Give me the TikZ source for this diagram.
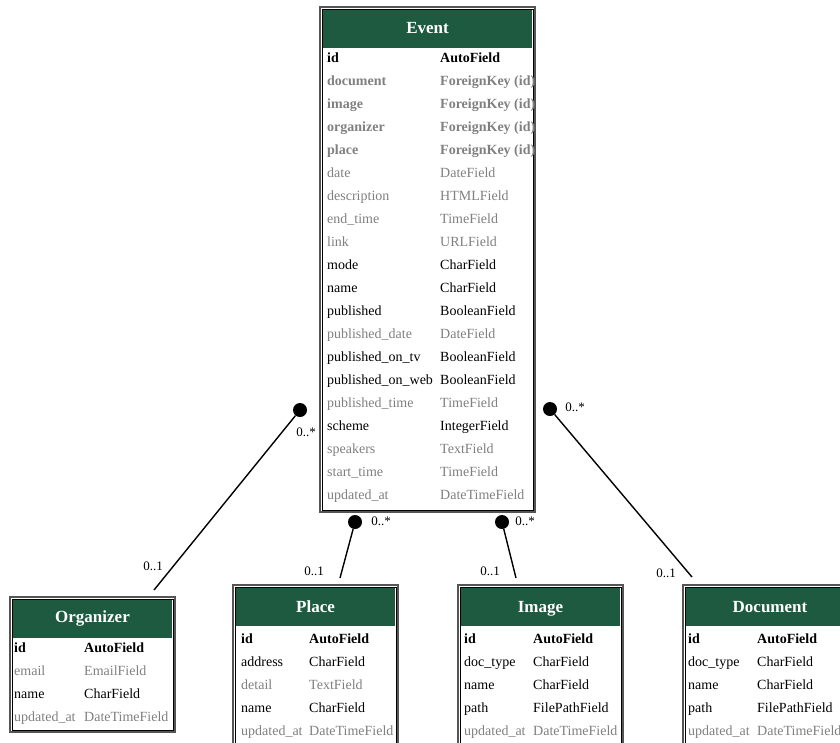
\documentclass[tikz,border=0pt]{standalone}
\usepackage{fontspec}
\setmainfont{Liberation Serif}
\usetikzlibrary{fit}

\definecolor{hdrgreen}{HTML}{1D5A40}
\definecolor{nullgray}{HTML}{808080}
\definecolor{framegray}{HTML}{555555}

\tikzset{
  modelframe/.style={draw=framegray, line width=1.3pt, fill=white, inner sep=0pt},
  innerframe/.style={draw=black, line width=0.8pt},
  hdrfill/.style={fill=hdrgreen, draw=none, inner sep=0pt},
  title/.style={anchor=base, inner sep=0pt, text=white,
    font=\fontsize{17}{20}\selectfont\bfseries},
  fld/.style={anchor=base west, inner sep=0pt, font=\fontsize{14}{16}\selectfont},
  nn/.style={fld, text=black},
  nl/.style={fld, text=nullgray},
  pk/.style={fld, text=black, font=\fontsize{14}{16}\selectfont\bfseries},
  fk/.style={fld, text=nullgray, font=\fontsize{14}{16}\selectfont\bfseries},
  enddot/.style={circle, fill=black, minimum size=14pt, inner sep=0pt},
  link/.style={line width=1.4pt, draw=black},
  card/.style={inner sep=0pt, font=\fontsize{13}{15}\selectfont}
}

% one table row: prefix, name x, type x, baseline y, style, field, type
\newcommand\mrow[7]{%
  \node[#5] (#1f) at (#2,#4) {#6};
  \node[#5] (#1t) at (#3,#4) {#7};}

% a model box: name, x1, y1, x2, y2
\newcommand\modelbox[5]{%
  \node[modelframe, fit={(#2,#3) (#4,#5)}] (#1) {};
  \draw[innerframe] (#2+2,#3+2) rectangle (#4-2,#5-2);
  \node[hdrfill, fit={(#2+3,#3+3) (#4-3,#3+41)}] (#1-hdr) {};}

\begin{document}
\begin{tikzpicture}[x=1pt,y=-1pt]
\useasboundingbox (0,0) rectangle (840,742);
\clip (0,0) rectangle (840,742);

% ---------- Event ----------
\modelbox{event}{320}{7}{535}{512}
\node[title] (event-title) at (427.5,33) {Event};
\mrow{e1}{327}{440}{62.5}{pk}{id}{AutoField}
\mrow{e2}{327}{440}{85.5}{fk}{document}{ForeignKey (id)}
\mrow{e3}{327}{440}{108.5}{fk}{image}{ForeignKey (id)}
\mrow{e4}{327}{440}{131.5}{fk}{organizer}{ForeignKey (id)}
\mrow{e5}{327}{440}{154.5}{fk}{place}{ForeignKey (id)}
\mrow{e6}{327}{440}{177.5}{nl}{date}{DateField}
\mrow{e7}{327}{440}{200.5}{nl}{description}{HTMLField}
\mrow{e8}{327}{440}{223.5}{nl}{end\_time}{TimeField}
\mrow{e9}{327}{440}{246.5}{nl}{link}{URLField}
\mrow{e10}{327}{440}{269.5}{nn}{mode}{CharField}
\mrow{e11}{327}{440}{292.5}{nn}{name}{CharField}
\mrow{e12}{327}{440}{315.5}{nn}{published}{BooleanField}
\mrow{e13}{327}{440}{338.5}{nl}{published\_date}{DateField}
\mrow{e14}{327}{440}{361.5}{nn}{published\_on\_tv}{BooleanField}
\mrow{e15}{327}{440}{384.5}{nn}{published\_on\_web}{BooleanField}
\mrow{e16}{327}{440}{407.5}{nl}{published\_time}{TimeField}
\mrow{e17}{327}{440}{430.5}{nn}{scheme}{IntegerField}
\mrow{e18}{327}{440}{453.5}{nl}{speakers}{TextField}
\mrow{e19}{327}{440}{476.5}{nl}{start\_time}{TimeField}
\mrow{e20}{327}{440}{499.5}{nl}{updated\_at}{DateTimeField}

% ---------- Organizer ----------
\modelbox{organizer}{10}{597}{175}{732}
\node[title] (organizer-title) at (92.5,622) {Organizer};
\mrow{o1}{14}{84}{652}{pk}{id}{AutoField}
\mrow{o2}{14}{84}{675}{nl}{email}{EmailField}
\mrow{o3}{14}{84}{698}{nn}{name}{CharField}
\mrow{o4}{14}{84}{721}{nl}{updated\_at}{DateTimeField}

% ---------- Place ----------
\modelbox{place}{233}{585}{398}{760}
\node[title] (place-title) at (315.5,612) {Place};
\mrow{p1}{241}{309}{643}{pk}{id}{AutoField}
\mrow{p2}{241}{309}{666}{nn}{address}{CharField}
\mrow{p3}{241}{309}{689}{nl}{detail}{TextField}
\mrow{p4}{241}{309}{712}{nn}{name}{CharField}
\mrow{p5}{241}{309}{735}{nl}{updated\_at}{DateTimeField}

% ---------- Image ----------
\modelbox{image}{458}{585}{623}{760}
\node[title] (image-title) at (540.5,612) {Image};
\mrow{i1}{464}{533}{643}{pk}{id}{AutoField}
\mrow{i2}{464}{533}{666}{nn}{doc\_type}{CharField}
\mrow{i3}{464}{533}{689}{nn}{name}{CharField}
\mrow{i4}{464}{533}{712}{nn}{path}{FilePathField}
\mrow{i5}{464}{533}{735}{nl}{updated\_at}{DateTimeField}

% ---------- Document ----------
\modelbox{document}{683}{585}{857}{760}
\node[title] (document-title) at (770,612) {Document};
\mrow{d1}{688}{757}{643}{pk}{id}{AutoField}
\mrow{d2}{688}{757}{666}{nn}{doc\_type}{CharField}
\mrow{d3}{688}{757}{689}{nn}{name}{CharField}
\mrow{d4}{688}{757}{712}{nn}{path}{FilePathField}
\mrow{d5}{688}{757}{735}{nl}{updated\_at}{DateTimeField}

% ---------- relations (many events to one target) ----------
\node[enddot] (dot-org) at (300,410) {};
\coordinate (end-org) at (154,590);
\draw[link] (dot-org) -- (end-org);
\node[card] (org-many) at (306,432) {0..*};
\node[card] (org-one) at (153,566) {0..1};

\node[enddot] (dot-place) at (355,522) {};
\coordinate (end-place) at (340,578);
\draw[link] (dot-place) -- (end-place);
\node[card] (place-many) at (381,521) {0..*};
\node[card] (place-one) at (314,571) {0..1};

\node[enddot] (dot-image) at (502,522) {};
\coordinate (end-image) at (516,578);
\draw[link] (dot-image) -- (end-image);
\node[card] (image-many) at (525,521) {0..*};
\node[card] (image-one) at (490,571) {0..1};

\node[enddot] (dot-doc) at (550,409) {};
\coordinate (end-doc) at (692,577);
\draw[link] (dot-doc) -- (end-doc);
\node[card] (doc-many) at (575,407) {0..*};
\node[card] (doc-one) at (666,573) {0..1};
\end{tikzpicture}
\end{document}
